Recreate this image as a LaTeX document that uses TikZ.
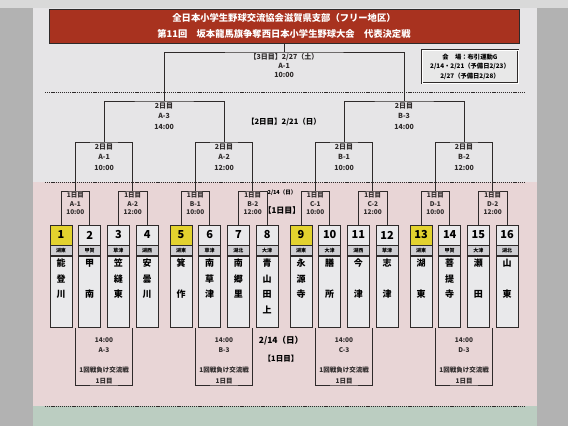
\documentclass[tikz,border=0pt]{standalone}
\usepackage{fontspec}
\setmainfont{Noto Sans CJK JP}
\usetikzlibrary{positioning}

\definecolor{banner}{HTML}{A8321F}
\definecolor{seedyellow}{HTML}{E3D22E}
\definecolor{boxgray}{HTML}{E9E9EB}
\definecolor{areagray}{HTML}{CFCFD3}
\definecolor{upperband}{HTML}{E6E5E7}
\definecolor{pinkband}{HTML}{E8D5D6}
\definecolor{greenband}{HTML}{BBCDC1}
\definecolor{ink}{HTML}{2E2A2A}

\begin{document}
\begin{tikzpicture}[x=1pt, y=-1pt, line width=0.9pt,
	num/.style={draw=ink, fill=boxgray, minimum width=22pt, minimum height=20pt, inner sep=0pt, font=\bfseries\fontsize{11}{11}\selectfont},
	seed/.style={num, fill=seedyellow},
	area/.style={draw=ink, fill=areagray, minimum width=22pt, minimum height=10pt, inner sep=0pt, font=\bfseries\fontsize{5}{5}\selectfont},
	school/.style={draw=ink, fill=boxgray, minimum width=22pt, minimum height=71pt, inner sep=0pt},
	names/.style={anchor=north, yshift=-2pt, align=center, inner sep=0pt, font=\bfseries\fontsize{9}{15.6}\selectfont},
	firstday/.style={anchor=north, align=center, inner sep=1pt, text=ink, font=\bfseries\fontsize{6.5}{8.5}\selectfont},
	secondday/.style={anchor=north, align=center, inner sep=1.5pt, text=ink, font=\bfseries\fontsize{7}{10.3}\selectfont},
	consol/.style={anchor=south, align=center, inner sep=1pt, text=ink, font=\bfseries\fontsize{6.5}{10.2}\selectfont},
	sep/.style={draw=ink, line width=0.6pt, dash pattern=on 1.2pt off 0.9pt},
]
	\useasboundingbox (0,0) rectangle (568,426);

	% photo background and paper
	\fill[gray!60] (0,0) rectangle (568,426);
	\fill[gray!30] (0,0) rectangle (568,8);
	\fill[upperband] (33,8) rectangle (537,182);
	\fill[pinkband] (33,182) rectangle (537,406);
	\fill[greenband] (33,406) rectangle (537,426);

	\draw[sep] (45,92) -- (525,92);
	\draw[sep] (45,182) -- (525,182);
	\draw[sep] (45,406) -- (525,406);

	\node[draw=ink, fill=banner, text=white, minimum width=470pt, minimum height=34pt, align=center, font=\bfseries\fontsize{9.3}{16}\selectfont] (title) at (284,26) {全日本小学生野球交流協会滋賀県支部（フリー地区）\\第11回　坂本龍馬旗争奪西日本小学生野球大会　代表決定戦};

	\node[draw=ink, double=white, double distance=1pt, fill=gray!18, minimum width=96pt, minimum height=33pt, align=center, font=\bfseries\fontsize{6.3}{9.5}\selectfont] (venue) at (470,66.5) {会　場：布引運動G\\2/14・2/21（予備日2/23）\\2/27（予備日2/28）};

	% teams
	\node[seed] (n1) at (61,235) {1};
	\node[area] (r1) [below=0pt of n1] {湖東};
	\node[school, label={[names]north:能\\登\\川}] (s1) [below=0pt of r1] {};
	\node[num] (n2) at (89.7,235) {2};
	\node[area] (r2) [below=0pt of n2] {甲賀};
	\node[school, label={[names]north:甲\\~\\南}] (s2) [below=0pt of r2] {};
	\node[num] (n3) at (118.4,235) {3};
	\node[area] (r3) [below=0pt of n3] {草津};
	\node[school, label={[names]north:笠\\縫\\東}] (s3) [below=0pt of r3] {};
	\node[num] (n4) at (147.1,235) {4};
	\node[area] (r4) [below=0pt of n4] {湖西};
	\node[school, label={[names]north:安\\曇\\川}] (s4) [below=0pt of r4] {};

	\node[seed] (n5) at (181,235) {5};
	\node[area] (r5) [below=0pt of n5] {湖東};
	\node[school, label={[names]north:箕\\~\\作}] (s5) [below=0pt of r5] {};
	\node[num] (n6) at (209.7,235) {6};
	\node[area] (r6) [below=0pt of n6] {草津};
	\node[school, label={[names]north:南\\草\\津}] (s6) [below=0pt of r6] {};
	\node[num] (n7) at (238.4,235) {7};
	\node[area] (r7) [below=0pt of n7] {湖北};
	\node[school, label={[names]north:南\\郷\\里}] (s7) [below=0pt of r7] {};
	\node[num] (n8) at (267.1,235) {8};
	\node[area] (r8) [below=0pt of n8] {大津};
	\node[school, label={[names]north:青\\山\\田\\上}] (s8) [below=0pt of r8] {};

	\node[seed] (n9) at (301,235) {9};
	\node[area] (r9) [below=0pt of n9] {湖東};
	\node[school, label={[names]north:永\\源\\寺}] (s9) [below=0pt of r9] {};
	\node[num] (n10) at (329.7,235) {10};
	\node[area] (r10) [below=0pt of n10] {大津};
	\node[school, label={[names]north:膳\\~\\所}] (s10) [below=0pt of r10] {};
	\node[num] (n11) at (358.4,235) {11};
	\node[area] (r11) [below=0pt of n11] {湖西};
	\node[school, label={[names]north:今\\~\\津}] (s11) [below=0pt of r11] {};
	\node[num] (n12) at (387.1,235) {12};
	\node[area] (r12) [below=0pt of n12] {草津};
	\node[school, label={[names]north:志\\~\\津}] (s12) [below=0pt of r12] {};

	\node[seed] (n13) at (421,235) {13};
	\node[area] (r13) [below=0pt of n13] {湖東};
	\node[school, label={[names]north:湖\\~\\東}] (s13) [below=0pt of r13] {};
	\node[num] (n14) at (449.7,235) {14};
	\node[area] (r14) [below=0pt of n14] {甲賀};
	\node[school, label={[names]north:菩\\提\\寺}] (s14) [below=0pt of r14] {};
	\node[num] (n15) at (478.4,235) {15};
	\node[area] (r15) [below=0pt of n15] {大津};
	\node[school, label={[names]north:瀬\\~\\田}] (s15) [below=0pt of r15] {};
	\node[num] (n16) at (507.1,235) {16};
	\node[area] (r16) [below=0pt of n16] {湖北};
	\node[school, label={[names]north:山\\~\\東}] (s16) [below=0pt of r16] {};

	% day 1
	\node[firstday] (m1a1) at (75.35,191) {1日目\\A-1\\10:00};
	\node[firstday] (m1a2) at (132.75,191) {1日目\\A-2\\12:00};
	\node[firstday] (m1b1) at (195.35,191) {1日目\\B-1\\10:00};
	\node[firstday] (m1b2) at (252.75,191) {1日目\\B-2\\12:00};
	\node[firstday] (m1c1) at (315.35,191) {1日目\\C-1\\10:00};
	\node[firstday] (m1c2) at (372.75,191) {1日目\\C-2\\12:00};
	\node[firstday] (m1d1) at (435.35,191) {1日目\\D-1\\10:00};
	\node[firstday] (m1d2) at (492.75,191) {1日目\\D-2\\12:00};

	% day 2
	\node[secondday] (m2a1) at (104.05,142) {2日目\\A-1\\10:00};
	\node[secondday] (m2a2) at (224.05,142) {2日目\\A-2\\12:00};
	\node[secondday] (m2b1) at (344.05,142) {2日目\\B-1\\10:00};
	\node[secondday] (m2b2) at (464.05,142) {2日目\\B-2\\12:00};
	\node[secondday] (m2a3) at (164.05,101) {2日目\\A-3\\14:00};
	\node[secondday] (m2b3) at (404.05,101) {2日目\\B-3\\14:00};

	% day 3
	\node[secondday, inner sep=1pt, font=\bfseries\fontsize{7}{9}\selectfont] (m3a1) at (284.05,52) {【3日目】2/27（土）\\A-1\\10:00};

	% consolation
	\node[consol] (m1a3) at (104.05,385) {14:00\\A-3\\~\\1回戦負け交流戦\\1日目};
	\node[consol] (m1b3) at (224.05,385) {14:00\\B-3\\~\\1回戦負け交流戦\\1日目};
	\node[consol] (m1c3) at (344.05,385) {14:00\\C-3\\~\\1回戦負け交流戦\\1日目};
	\node[consol] (m1d3) at (464.05,385) {14:00\\D-3\\~\\1回戦負け交流戦\\1日目};

	\node[font=\bfseries\fontsize{7.5}{7.5}\selectfont] (day2) at (284,122) {【2日目】2/21（日）};
	\node[font=\bfseries\fontsize{5.5}{5.5}\selectfont] (date1) at (282,193) {2/14（日）};
	\node[font=\bfseries\fontsize{8}{8}\selectfont] (day1) [below=3pt of date1] {【1日目】};
	\node[font=\bfseries\fontsize{8.5}{8.5}\selectfont] (date1b) at (281,341) {2/14（日）};
	\node[font=\bfseries\fontsize{7.5}{7.5}\selectfont] (day1b) [below=2pt of date1b] {【1日目】};

	\path[draw, ink] (n1.north) |- (m1a1.north) -| (n2.north);
	\path[draw, ink] (n3.north) |- (m1a2.north) -| (n4.north);
	\path[draw, ink] (n5.north) |- (m1b1.north) -| (n6.north);
	\path[draw, ink] (n7.north) |- (m1b2.north) -| (n8.north);
	\path[draw, ink] (n9.north) |- (m1c1.north) -| (n10.north);
	\path[draw, ink] (n11.north) |- (m1c2.north) -| (n12.north);
	\path[draw, ink] (n13.north) |- (m1d1.north) -| (n14.north);
	\path[draw, ink] (n15.north) |- (m1d2.north) -| (n16.north);

	\path[draw, ink] (m1a1.north) |- (m2a1.north) -| (m1a2.north);
	\path[draw, ink] (m1b1.north) |- (m2a2.north) -| (m1b2.north);
	\path[draw, ink] (m1c1.north) |- (m2b1.north) -| (m1c2.north);
	\path[draw, ink] (m1d1.north) |- (m2b2.north) -| (m1d2.north);

	\path[draw, ink] (m2a1.north) |- (m2a3.north) -| (m2a2.north);
	\path[draw, ink] (m2b1.north) |- (m2b3.north) -| (m2b2.north);
	\path[draw, ink] (m2a3.north) |- (m3a1.north) -| (m2b3.north);
	\path[draw, ink] (m3a1.north) -- (m3a1.north |- title.south);

	\path[draw, ink] (m1a1.north |- s1.south) |- (m1a3.south) -| (m1a2.north |- s1.south);
	\path[draw, ink] (m1b1.north |- s1.south) |- (m1b3.south) -| (m1b2.north |- s1.south);
	\path[draw, ink] (m1c1.north |- s1.south) |- (m1c3.south) -| (m1c2.north |- s1.south);
	\path[draw, ink] (m1d1.north |- s1.south) |- (m1d3.south) -| (m1d2.north |- s1.south);

\end{tikzpicture}
\end{document}
